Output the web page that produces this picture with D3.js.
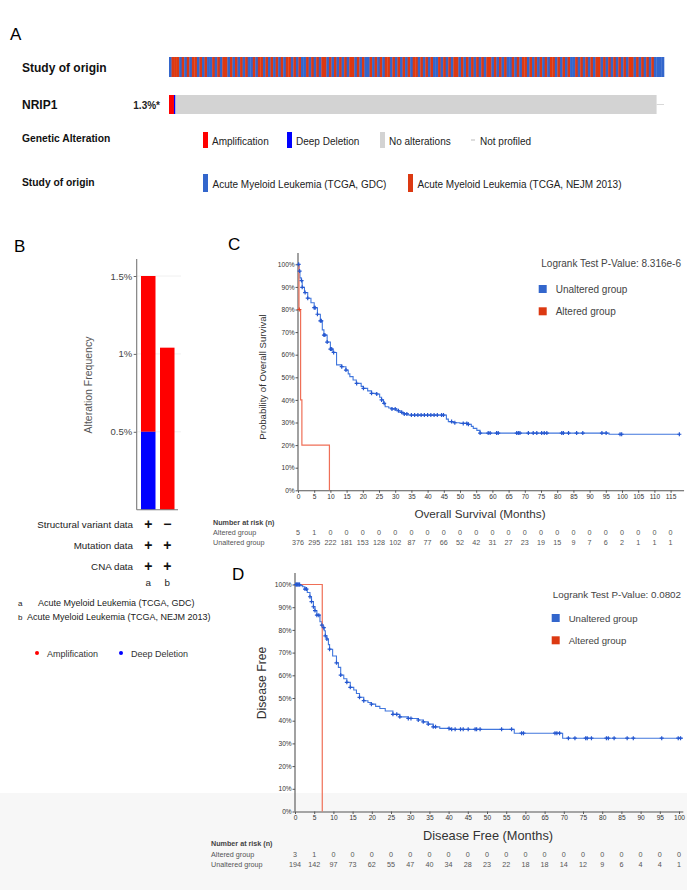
<!DOCTYPE html>
<html>
<head>
<meta charset="utf-8">
<script src="https://cdn.jsdelivr.net/npm/d3@7"></script>
<style>
  body { margin: 0; background: #fff; }
  svg { display: block; font-family: "Liberation Sans", Arial, Helvetica, sans-serif; }
</style>
</head>
<body>
<svg id="fig" width="687" height="890"></svg>
<script>
// ---- Panel A: oncoprint ----
// study of origin per sample column (B = TCGA GDC, R = TCGA NEJM 2013)
const studyPattern = "BRRRBRBRBRRBRBRBBRBRBRRBRBRBRBRBBRBRRBRBRBRBRBRRBRBRBBRBRBRBRRBRBRBRBRBRRBRBRBBRBRBRBRRBRBRBRBRBRRBRBRBRBBRBRBRBRRBRBRBRBRBRBRRBRBRBRBBRBRBRRBRBRBRBRBRRBRBRBRBBRBRBRBRBRRBRBRBRBRBRBRRBRBRBRBRBBBB";
const studyColor = { B: '#3366cc', R: '#dc3912' };
const oncoSamples = 400;
const oncoProfiled = 394;
const nrip1Amp = 4;
const nrip1Del = 1;
const nrip1Label = '1.3%*';
const alterationLegend = ['Amplification', 'Deep Deletion', 'No alterations', 'Not profiled'];
const alterationColors = ['#ff0000', '#0000ff', '#d3d3d3', null];
const studyNames = ['Acute Myeloid Leukemia (TCGA, GDC)', 'Acute Myeloid Leukemia (TCGA, NEJM 2013)'];

// ---- Panel B: alteration frequency ----
const bStudies = ['a', 'b'];
const bAmp = [1.0, 1.04];
const bDel = [0.5, 0];
const bTicks = [0.5, 1, 1.5];
const bRows = ['Structural variant data', 'Mutation data', 'CNA data'];
const bProfiled = [[true, false], [true, true], [true, true]];

// ---- Panel C: overall survival ----
const cTicks = [0,5,10,15,20,25,30,35,40,45,50,55,60,65,70,75,80,85,90,95,100,105,110,115];
const cUnaltered = [[0,100],[0.3,97],[0.6,94],[1,92.8],[1.3,89.8],[2,87.5],[3,85],[4,83],[5,80.8],[6,77.9],
  [6.9,75],[7.5,71],[8,68.7],[9,65.6],[10,62.5],[10.8,61],[11.9,55.5],[13.5,54.7],[14.8,53.2],[15.5,51.5],
  [16,50.3],[17,48.8],[18,47.3],[19.5,46],[20.2,45.1],[21.5,44],[22.7,42.9],[24.3,42.6],[25.2,41.2],[25.8,40],
  [26.4,38.5],[26.9,37],[28,36.4],[29,36],[30.5,35.2],[31.5,34.5],[32.5,33.8],[34,33.3],[45.8,31.5],[46.4,30.4],
  [47.9,29.9],[50,29.6],[52.6,29.2],[53.5,28.3],[54.1,27.4],[55.2,26.5],[56.2,25.3],[96,24.8],[117.8,24.8]];
const cUnalteredCensor = [0.2,0.5,1.1,1.3,2.2,3,5,5.3,6,6.9,7.2,8,8.3,9,10,10.4,11,13.5,14.8,18.1,20.2,22.7,24.3,
  25.8,26.6,29,30,31,32,32.8,33.6,35,36,37,38,39,40,41,42,43,44.3,44.9,47.4,48.4,51,52.1,52.6,56.2,58.7,59.3,61.3,
  61.8,67.5,68,68.5,71.1,72.6,73.7,75.2,76,76.8,81.4,81.9,83.5,86,87.9,93.8,95.1,99.4,99.9,117.7];
const cAltered = [[0,100],[0.3,80],[0.8,40],[1.2,20],[9.7,0]];
const cAlteredCensor = [0.4];
const cRiskAltered = [5,1,0,0,0,0,0,0,0,0,0,0,0,0,0,0,0,0,0,0,0,0,0,0];
const cRiskUnaltered = [376,295,222,181,153,128,102,87,77,66,52,42,31,27,23,19,15,9,7,6,2,1,1,1];

// ---- Panel D: disease free ----
const dTicks = [0,5,10,15,20,25,30,35,40,45,50,55,60,65,70,75,80,85,90,95,100];
const dUnaltered = [[0,100],[1.3,99.5],[2,99],[2.6,98],[3.2,96.5],[3.9,94.6],[4.3,92.5],[4.8,90.2],[5.2,88.5],
  [5.7,86.5],[6.5,83.6],[7,82.1],[7.3,81],[7.6,79.6],[7.9,77.4],[8.3,76],[8.7,73.5],[9,71.5],[9.8,68.5],[10.8,65.5],
  [11.3,63.5],[11.9,60.1],[12.7,58.5],[13.5,56.9],[14.4,54.7],[15.3,53.5],[16,52],[16.8,50.3],[17.9,48.8],[19,48],
  [19.9,47.3],[21,46.3],[22.1,45.4],[23.5,44.3],[25.5,42.8],[27.3,41.7],[29.5,41],[32.1,40.3],[33.4,39.5],
  [34.7,38.5],[36,37.3],[37.7,36.6],[40.3,36.2],[57.1,34.5],[69.7,32.3],[101,32.3]];
const dUnalteredCensor = [0.2,0.4,0.6,0.8,1.0,1.2,2.6,3.0,3.9,4.3,4.8,5.2,5.7,6.2,7.0,7.5,7.9,8.3,9.0,10.8,11.9,
  13.5,14.4,16.8,17.9,19.9,25.5,26.5,27.3,29.5,30.2,32.1,33.4,34.7,36,36.6,40.1,40.8,41.7,43.1,43.8,45.1,46.9,47.3,
  48.2,53.8,56.4,59.0,59.5,67.7,68.2,68.9,71.2,72.9,75.7,76.1,77.2,81.1,81.6,83.1,86.5,88.1,95.5,99.8,100.4];
const dAltered = [[0,100],[7.1,0]];
const dRiskAltered = [3,1,0,0,0,0,0,0,0,0,0,0,0,0,0,0,0,0,0,0,0];
const dRiskUnaltered = [194,142,97,73,62,55,47,40,34,28,23,22,18,18,14,12,9,6,4,4,1];

const yPctTicks = [0,10,20,30,40,50,60,70,80,90,100];
const kmBlue = '#4177dd', kmCensor = '#2557d0', kmRed = '#ef6f57';

const svg = d3.select('#fig');

// light footer band
svg.append('rect').attr('x', 0).attr('y', 793).attr('width', 687).attr('height', 97).attr('fill', '#f7f7f7');

// panel letters
[['A', 10, 40], ['B', 14, 252], ['C', 228, 250], ['D', 232, 580]].forEach(([t, x, y]) => {
    svg.append('text').attr('x', x).attr('y', y).attr('font-size', '17px').attr('fill', '#000').text(t);
});

// ---------------- Panel A ----------------
const gA = svg.append('g');
const rowLabels = [['Study of origin', 72, 12], ['NRIP1', 109, 12], ['Genetic Alteration', 141.5, 10.3], ['Study of origin', 185.5, 10.3]];
rowLabels.forEach(([t, y, fs]) => {
    gA.append('text').attr('x', 22).attr('y', y).attr('font-size', fs + 'px')
        .attr('font-weight', 'bold').attr('fill', '#111').text(t);
});

const studyX = d3.scaleBand().domain(d3.range(studyPattern.length)).range([169, 664]);
gA.selectAll('.study').data(studyPattern.split('')).enter().append('rect')
    .attr('x', (d, i) => studyX(i))
    .attr('y', 57)
    .attr('width', studyX.bandwidth() + 0.3)
    .attr('height', 20)
    .attr('fill', d => studyColor[d]);

const sampleX = d3.scaleLinear().domain([0, oncoSamples]).range([169, 664]);
gA.append('rect').attr('x', sampleX(0)).attr('y', 95)
    .attr('width', sampleX(oncoProfiled) - sampleX(0)).attr('height', 19).attr('fill', '#d3d3d3');
gA.append('line').attr('x1', sampleX(oncoProfiled)).attr('x2', sampleX(oncoSamples))
    .attr('y1', 104.5).attr('y2', 104.5).attr('stroke', '#d8d8d8').attr('stroke-width', 1);
gA.append('rect').attr('x', sampleX(0)).attr('y', 95)
    .attr('width', sampleX(nrip1Amp) - sampleX(0)).attr('height', 19).attr('fill', '#ff0000');
gA.append('rect').attr('x', sampleX(nrip1Amp)).attr('y', 95)
    .attr('width', sampleX(nrip1Amp + nrip1Del) - sampleX(nrip1Amp)).attr('height', 19).attr('fill', '#0000ff');
gA.append('text').attr('x', 160).attr('y', 109).attr('text-anchor', 'end')
    .attr('font-size', '10px').attr('font-weight', 'bold').attr('fill', '#222').text(nrip1Label);

const altLegendX = [203, 287, 380, 471];
alterationLegend.forEach((t, i) => {
    const x0 = altLegendX[i];
    if (alterationColors[i]) {
        gA.append('rect').attr('x', x0).attr('y', 132).attr('width', 5).attr('height', 16).attr('fill', alterationColors[i]);
    } else {
        gA.append('line').attr('x1', x0).attr('x2', x0 + 4).attr('y1', 140).attr('y2', 140).attr('stroke', '#bbb');
    }
    gA.append('text').attr('x', x0 + 9).attr('y', 144.5)
        .attr('font-size', '10px').attr('fill', '#222').text(t);
});

const studyLegendX = [203, 408];
studyNames.forEach((t, i) => {
    gA.append('rect').attr('x', studyLegendX[i]).attr('y', 174).attr('width', 5).attr('height', 18)
        .attr('fill', i === 0 ? studyColor.B : studyColor.R);
    gA.append('text').attr('x', studyLegendX[i] + 9.5).attr('y', 188)
        .attr('font-size', '10px').attr('fill', '#222').text(t);
});

// ---------------- Panel B ----------------
const gB = svg.append('g');
const yB = d3.scaleLinear().domain([0, 1.5]).range([509.7, 276]);
const xB = d3.scaleBand().domain(bStudies).range([137, 178.5]).paddingInner(0.237).paddingOuter(0.21);

gB.selectAll('.grid').data(bTicks).enter().append('line')
    .attr('x1', 137).attr('x2', 181).attr('y1', d => yB(d)).attr('y2', d => yB(d))
    .attr('stroke', '#f0f0f0');

gB.selectAll('.amp').data(bStudies).enter().append('rect')
    .attr('x', d => xB(d)).attr('width', xB.bandwidth())
    .attr('y', (d, i) => yB(bDel[i] + bAmp[i]))
    .attr('height', (d, i) => yB(bDel[i]) - yB(bDel[i] + bAmp[i]))
    .attr('fill', '#ff0000');
gB.selectAll('.del').data(bStudies).enter().append('rect')
    .attr('x', d => xB(d)).attr('width', xB.bandwidth())
    .attr('y', (d, i) => yB(bDel[i]))
    .attr('height', (d, i) => yB(0) - yB(bDel[i]))
    .attr('fill', '#0000ff');

const gBy = gB.append('g').attr('transform', 'translate(136.7,0)')
    .call(d3.axisLeft(yB).tickValues(bTicks).tickFormat(d => d + '%').tickSize(3).tickPadding(1.5).tickSizeOuter(0));
gBy.select('.domain').remove();
gBy.selectAll('text').attr('font-size', '9.5px').attr('fill', '#444').attr('font-family', null);
gBy.selectAll('.tick line').attr('stroke', '#666');
gB.append('line').attr('x1', 136.7).attr('x2', 136.7).attr('y1', 259).attr('y2', 509.7).attr('stroke', '#777').attr('stroke-width', 1.1);
gB.append('line').attr('x1', 136.7).attr('x2', 178).attr('y1', 509.7).attr('y2', 509.7).attr('stroke', '#777').attr('stroke-width', 1.1);

gB.append('text').attr('transform', 'translate(92,385) rotate(-90)').attr('text-anchor', 'middle')
    .attr('font-size', '10.5px').attr('fill', '#555').text('Alteration Frequency');

const rowY = d3.scalePoint().domain(bRows).range([527.5, 569.5]);
bRows.forEach((r, ri) => {
    gB.append('text').attr('x', 133).attr('y', rowY(r)).attr('text-anchor', 'end')
        .attr('font-size', '9.8px').attr('fill', '#222').text(r);
    bStudies.forEach((s, si) => {
        gB.append('text').attr('x', xB(s) + xB.bandwidth() / 2).attr('y', rowY(r) + 1.5)
            .attr('text-anchor', 'middle').attr('font-size', '14px').attr('font-weight', 'bold')
            .attr('fill', '#111').text(bProfiled[ri][si] ? '+' : '\u2212');
    });
});
bStudies.forEach(s => {
    gB.append('text').attr('x', xB(s) + xB.bandwidth() / 2).attr('y', 586).attr('text-anchor', 'middle')
        .attr('font-size', '9.8px').attr('fill', '#222').text(s);
});
gB.append('text').attr('x', 18).attr('y', 606).attr('font-size', '8px').attr('fill', '#222').text('a');
gB.append('text').attr('x', 38).attr('y', 606).attr('font-size', '9px').attr('fill', '#222').text(studyNames[0]);
gB.append('text').attr('x', 18).attr('y', 620).attr('font-size', '8px').attr('fill', '#222').text('b');
gB.append('text').attr('x', 27).attr('y', 620).attr('font-size', '9px').attr('fill', '#222').text(studyNames[1]);

[['Amplification', '#ff0000', 37], ['Deep Deletion', '#0000ff', 121]].forEach(([t, c, x0]) => {
    gB.append('circle').attr('cx', x0).attr('cy', 653).attr('r', 2).attr('fill', c);
    gB.append('text').attr('x', x0 + 10).attr('y', 656.5).attr('font-size', '9px').attr('fill', '#333').text(t);
});

// ---------------- KM panels ----------------
function stepAt(data, m) {
    let v = data[0][1];
    data.forEach(d => { if (d[0] <= m) v = d[1]; });
    return v;
}

function kmPanel(p) {
    const g = svg.append('g');
    const x = d3.scaleLinear().domain([0, p.xMax]).range([p.left, p.right]);
    const y = d3.scaleLinear().domain([0, 100]).range([p.bottom, p.top100]);

    const gx = g.append('g').attr('transform', `translate(0,${p.bottom})`)
        .call(d3.axisBottom(x).tickValues(p.ticks).tickSize(2.5).tickPadding(1.5).tickSizeOuter(0));
    gx.select('.domain').attr('stroke', '#555').attr('stroke-width', 1.1);
    gx.selectAll('.tick line').attr('stroke', '#555');
    gx.selectAll('text').attr('font-size', '6.6px').attr('fill', '#333').attr('font-family', null);

    const gy = g.append('g').attr('transform', `translate(${p.left},0)`)
        .call(d3.axisLeft(y).tickValues(yPctTicks).tickFormat(d => d + '%').tickSize(2.5).tickPadding(0.8).tickSizeOuter(0));
    gy.select('.domain').remove();
    gy.selectAll('.tick line').attr('stroke', '#555');
    gy.selectAll('text').attr('font-size', '6.6px').attr('fill', '#333').attr('font-family', null);
    g.append('line').attr('x1', p.left).attr('x2', p.left).attr('y1', p.axisTop).attr('y2', p.bottom)
        .attr('stroke', '#555').attr('stroke-width', 1.1);

    const line = d3.line().x(d => x(d[0])).y(d => y(d[1])).curve(d3.curveStepAfter);
    g.append('path').datum(p.unaltered).attr('d', line).attr('fill', 'none')
        .attr('stroke', kmBlue).attr('stroke-width', 1.1);
    g.append('path').datum(p.altered).attr('d', line).attr('fill', 'none')
        .attr('stroke', kmRed).attr('stroke-width', 1.2);

    const cross = data => m => {
        const cx = x(m), cy = y(stepAt(data, m));
        return `M${cx - 2},${cy}h4M${cx},${cy - 2}v4`;
    };
    g.selectAll('.cu').data(p.unalteredCensor).enter().append('path')
        .attr('d', cross(p.unaltered)).attr('stroke', kmCensor).attr('stroke-width', 1.2).attr('fill', 'none');
    g.selectAll('.ca').data(p.alteredCensor).enter().append('path')
        .attr('d', cross(p.altered)).attr('stroke', '#e0462a').attr('stroke-width', 1.2).attr('fill', 'none');

    // axis titles
    g.append('text').attr('x', p.xLabelX).attr('y', p.xLabelY).attr('text-anchor', 'middle')
        .attr('font-size', p.xLabelSize).attr('fill', '#333').text(p.xLabel);
    g.append('text').attr('transform', `translate(${p.yLabelX},${p.yLabelY}) rotate(-90)`)
        .attr('text-anchor', 'middle').attr('font-size', p.yLabelSize).attr('fill', '#333').text(p.yLabel);

    // logrank + legend
    g.append('text').attr('x', 681).attr('y', p.pY).attr('text-anchor', 'end')
        .attr('font-size', p.pSize).attr('fill', '#444').text(p.pText);
    [['Unaltered group', '#3366cc'], ['Altered group', '#dc3912']].forEach(([t, c], i) => {
        const cy = p.legY + i * 22.3;
        g.append('rect').attr('x', p.legX).attr('y', cy - 4).attr('width', 8).attr('height', 8).attr('fill', c);
        g.append('text').attr('x', p.legX + 17).attr('y', cy + 3.5)
            .attr('font-size', p.legSize).attr('fill', '#444').text(t);
    });

    // number at risk
    g.append('text').attr('x', p.riskX).attr('y', p.riskY).attr('font-size', '7.2px')
        .attr('font-weight', 'bold').attr('fill', '#444').text('Number at risk (n)');
    [['Altered group', p.riskAltered], ['Unaltered group', p.riskUnaltered]].forEach(([t, vals], i) => {
        const ry = p.riskY + 10.5 + i * 10;
        g.append('text').attr('x', p.riskX).attr('y', ry).attr('font-size', '7.2px').attr('fill', '#555').text(t);
        g.selectAll(null).data(vals).enter().append('text')
            .attr('x', (d, j) => x(p.ticks[j])).attr('y', ry).attr('text-anchor', 'middle')
            .attr('font-size', '7.2px').attr('fill', '#555').text(d => d);
    });
}

kmPanel({
    xMax: 119, left: 298, right: 298 + 119 * 3.24, bottom: 490.3, top100: 264.3, axisTop: 253,
    ticks: cTicks, unaltered: cUnaltered, unalteredCensor: cUnalteredCensor,
    altered: cAltered, alteredCensor: cAlteredCensor,
    xLabel: 'Overall Survival (Months)', xLabelX: 480, xLabelY: 518, xLabelSize: '11.7px',
    yLabel: 'Probability of Overall Survival', yLabelX: 266, yLabelY: 377, yLabelSize: '9.6px',
    pText: 'Logrank Test P-Value: 8.316e-6', pY: 266.5, pSize: '10px',
    legX: 538.7, legY: 289, legSize: '10px',
    riskX: 213, riskY: 524.5, riskAltered: cRiskAltered, riskUnaltered: cRiskUnaltered
});

kmPanel({
    xMax: 101, left: 295, right: 295 + 101 * 3.84, bottom: 811.5, top100: 584.5, axisTop: 573,
    ticks: dTicks, unaltered: dUnaltered, unalteredCensor: dUnalteredCensor,
    altered: dAltered, alteredCensor: [],
    xLabel: 'Disease Free (Months)', xLabelX: 488, xLabelY: 839.5, xLabelSize: '12.8px',
    yLabel: 'Disease Free', yLabelX: 266, yLabelY: 683, yLabelSize: '12.2px',
    pText: 'Logrank Test P-Value: 0.0802', pY: 597.5, pSize: '9.8px',
    legX: 551.7, legY: 618, legSize: '9.6px',
    riskX: 211, riskY: 846, riskAltered: dRiskAltered, riskUnaltered: dRiskUnaltered
});
</script>
</body>
</html>
